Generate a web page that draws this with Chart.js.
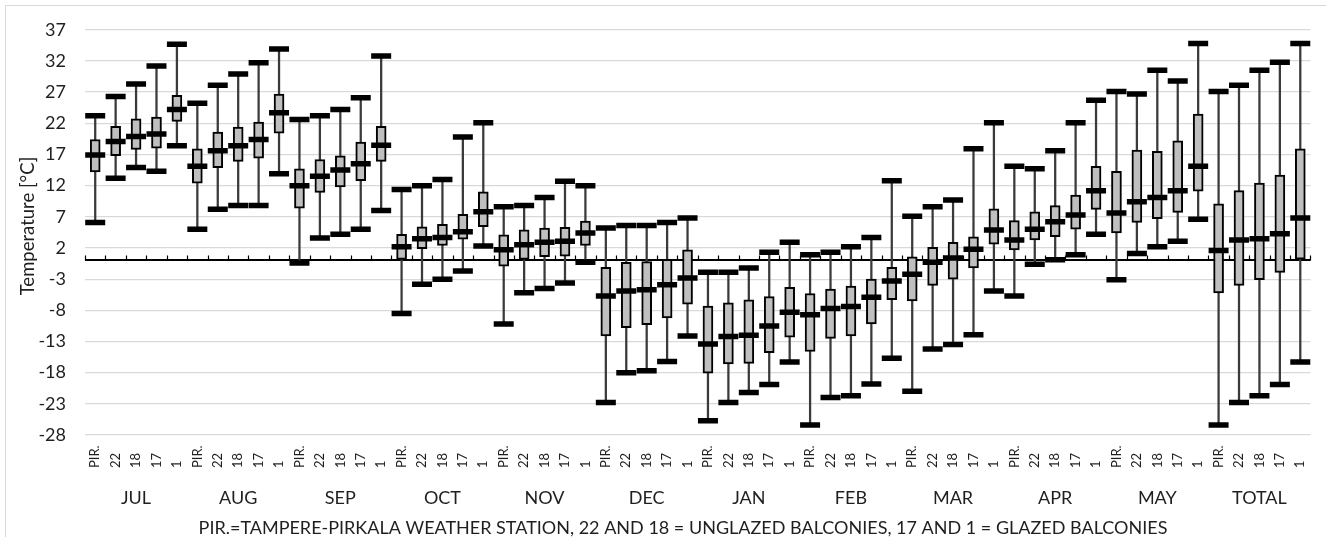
<!DOCTYPE html>
<html><head><meta charset="utf-8">
<script src="https://cdn.jsdelivr.net/npm/chart.js@4.4.1/dist/chart.umd.min.js"></script>
<style>html,body{margin:0;padding:0;background:#fff;}canvas{display:block;}</style>
</head><body>
<canvas id="c" width="1326" height="537"></canvas>
<script>
const months = ['JUL','AUG','SEP','OCT','NOV','DEC','JAN','FEB','MAR','APR','MAY','TOTAL'];
const sites = ['PIR.','22','18','17','1'];
const yTicks = [-28,-23,-18,-13,-8,-3,2,7,12,17,22,27,32,37];

// order: for each month -> PIR., 22, 18, 17, 1
const minVals = [
  6.1, 13.2, 14.9, 14.3, 18.4,
  5.0, 8.2, 8.8, 8.8, 13.9,
  -0.4, 3.6, 4.2, 5.0, 8.0,
  -8.5, -3.8, -3.0, -1.7, 2.3,
  -10.2, -5.2, -4.5, -3.6, -0.3,
  -22.8, -18.0, -17.7, -16.2, -12.1,
  -25.7, -22.8, -21.2, -19.9, -16.3,
  -26.4, -22.0, -21.7, -19.8, -15.7,
  -21.0, -14.2, -13.5, -11.9, -4.9,
  -5.7, -0.6, 0.1, 0.9, 4.2,
  -3.1, 1.1, 2.2, 3.1, 6.6,
  -26.4, -22.8, -21.7, -19.9, -16.3
];
const q1Vals = [
  14.2, 16.8, 17.8, 18.0, 22.3,
  12.4, 14.9, 15.9, 16.4, 20.4,
  8.4, 10.9, 11.8, 12.8, 15.9,
  0.0, 1.9, 2.4, 3.4, 5.4,
  -0.9, 0.0, 0.6, 0.7, 2.4,
  -12.1, -10.8, -10.3, -9.2, -7.0,
  -18.1, -16.6, -16.5, -14.8, -12.3,
  -14.6, -12.5, -12.1, -10.2, -6.3,
  -6.5, -4.0, -3.0, -1.2, 2.6,
  1.7, 3.3, 3.8, 5.0, 8.2,
  4.4, 6.1, 6.7, 7.7, 11.1,
  -5.2, -4.0, -3.1, -1.9, 0.2
];
const medVals = [
  16.9, 19.1, 19.9, 20.3, 24.2,
  15.1, 17.6, 18.4, 19.4, 23.7,
  12.0, 13.5, 14.5, 15.5, 18.5,
  2.2, 3.5, 3.7, 4.6, 7.8,
  1.7, 2.5, 2.9, 3.1, 4.4,
  -5.7, -4.9, -4.7, -3.9, -2.8,
  -13.4, -12.2, -12.0, -10.5, -8.3,
  -8.7, -7.7, -7.4, -5.9, -3.3,
  -2.2, -0.3, 0.4, 1.8, 4.9,
  3.3, 5.0, 6.2, 7.3, 11.2,
  7.6, 9.4, 10.1, 11.2, 15.1,
  1.6, 3.3, 3.5, 4.3, 6.8
];
const q3Vals = [
  19.4, 21.5, 22.7, 23.0, 26.5,
  17.9, 20.6, 21.4, 22.2, 26.7,
  14.7, 16.2, 16.8, 19.0, 21.5,
  4.2, 5.4, 5.8, 7.4, 11.0,
  4.1, 4.9, 5.2, 5.3, 6.3,
  -1.1, -0.3, -0.2, 0.2, 1.7,
  -7.3, -6.8, -6.3, -5.8, -4.3,
  -5.3, -4.6, -4.1, -3.0, -1.1,
  0.6, 2.1, 2.9, 3.8, 8.3,
  6.4, 7.8, 8.8, 10.5, 15.1,
  14.3, 17.7, 17.5, 19.2, 23.5,
  9.1, 11.2, 12.4, 13.7, 17.9
];
const maxVals = [
  23.2, 26.3, 28.3, 31.2, 34.7,
  25.2, 28.1, 29.9, 31.7, 33.9,
  22.6, 23.2, 24.2, 26.1, 32.8,
  11.4, 12.0, 13.0, 19.8, 22.1,
  8.6, 8.8, 10.1, 12.7, 12.0,
  5.2, 5.6, 5.6, 6.1, 6.8,
  -1.9, -1.9, -1.2, 1.3, 2.9,
  0.9, 1.3, 2.2, 3.7, 12.8,
  7.1, 8.6, 9.7, 17.9, 22.1,
  15.1, 14.7, 17.6, 22.1, 25.7,
  27.1, 26.7, 30.5, 28.8, 34.8,
  27.1, 28.1, 30.5, 31.8, 34.8
];

const yTitle = 'Temperature [°C]';
const xTitle = 'PIR.=TAMPERE-PIRKALA WEATHER STATION, 22 AND 18 = UNGLAZED BALCONIES, 17 AND 1 = GLAZED BALCONIES';

const labels = [];
months.forEach(m => sites.forEach(s => labels.push(m + ' ' + s)));

const FONT = 'Lato, "Open Sans", sans-serif';
const TXT = '#1f1f1f';

const capDataset = (data, order) => ({
  type: 'line', data, showLine: false, order,
  pointStyle: 'line', pointRadius: 10, pointHoverRadius: 10,
  pointBorderWidth: 5.5, pointBorderColor: '#000', pointBackgroundColor: '#000'
});

const decor = {
  id: 'decor',
  beforeDraw(chart) {
    const ctx = chart.ctx;
    ctx.save();
    ctx.fillStyle = '#fff';
    ctx.fillRect(0, 0, chart.width, chart.height);
    ctx.strokeStyle = '#d9d9d9';
    ctx.lineWidth = 1;
    ctx.beginPath();
    ctx.moveTo(5.5, chart.height); ctx.lineTo(5.5, 5.5); ctx.lineTo(chart.width, 5.5);
    ctx.stroke();
    ctx.restore();
  },
  beforeDatasetsDraw(chart) {
    const ctx = chart.ctx, xs = chart.scales.x, ys = chart.scales.y;
    const y0 = ys.getPixelForValue(0);
    const half = (xs.getPixelForValue(1) - xs.getPixelForValue(0)) / 2;
    ctx.save();
    ctx.strokeStyle = '#000';
    ctx.lineWidth = 1.2;
    ctx.beginPath();
    for (let i = 0; i <= labels.length; i++) {
      const x = Math.round(xs.getPixelForValue(i) - half) + 0.5;
      ctx.moveTo(x, y0); ctx.lineTo(x, y0 - 5);
    }
    ctx.stroke();
    ctx.restore();
  },
  afterDraw(chart) {
    const ctx = chart.ctx, xs = chart.scales.x, area = chart.chartArea;
    ctx.save();
    ctx.fillStyle = TXT;
    ctx.font = '13px ' + FONT;
    ctx.textAlign = 'left';
    ctx.textBaseline = 'middle';
    labels.forEach((lab, i) => {
      const x = xs.getPixelForValue(i);
      ctx.save();
      ctx.translate(x, area.bottom + 33);
      ctx.rotate(-Math.PI / 2);
      ctx.fillText(sites[i % sites.length], 0, 0);
      ctx.restore();
    });
    ctx.font = '18px ' + FONT;
    ctx.textAlign = 'center';
    months.forEach((m, g) => {
      const x = (xs.getPixelForValue(g * 5) + xs.getPixelForValue(g * 5 + 4)) / 2;
      ctx.fillText(m, x, area.bottom + 63);
    });
    ctx.font = '18px ' + FONT;
    ctx.fillText(xTitle, 683, area.bottom + 93);
    ctx.save();
    ctx.translate(28, 226);
    ctx.rotate(-Math.PI / 2);
    ctx.font = '18.5px ' + FONT;
    ctx.fillText(yTitle, 0, 0);
    ctx.restore();
    ctx.restore();
  }
};

new Chart(document.getElementById('c'), {
  type: 'bar',
  data: {
    labels,
    datasets: [
      { type: 'bar', data: minVals.map((v, i) => [v, maxVals[i]]), backgroundColor: '#3a3a3a',
        barThickness: 1.6, grouped: false, order: 4, borderWidth: 0 },
      { type: 'bar', data: q1Vals.map((v, i) => [v, q3Vals[i]]), backgroundColor: '#bfbfbf',
        borderColor: '#000', borderWidth: 2, borderSkipped: false, barThickness: 10, grouped: false, order: 3 },
      capDataset(minVals, 2),
      capDataset(maxVals, 1),
      capDataset(medVals, 0)
    ]
  },
  options: {
    responsive: false,
    animation: false,
    events: [],
    devicePixelRatio: 1,
    layout: { padding: { left: 5, right: 5, top: 23.5, bottom: 102 } },
    plugins: { legend: { display: false }, tooltip: { enabled: false } },
    scales: {
      x: { display: false, offset: true },
      y: {
        min: -28, max: 37,
        afterBuildTicks: s => { s.ticks = yTicks.concat([0]).sort((a, b) => a - b).map(v => ({ value: v })); },
        afterFit: s => { s.width = 80; },
        ticks: { callback: v => v === 0 ? '' : String(v), padding: 19, color: TXT, font: { family: FONT, size: 18 }, autoSkip: false },
        grid: {
          drawTicks: false,
          color: c => (c.tick && c.tick.value === 0) ? '#000' : '#d9d9d9',
          lineWidth: c => (c.tick && c.tick.value === 0) ? 2 : 1.3
        },
        border: { display: false }
      }
    }
  },
  plugins: [decor]
});
</script>
</body></html>
